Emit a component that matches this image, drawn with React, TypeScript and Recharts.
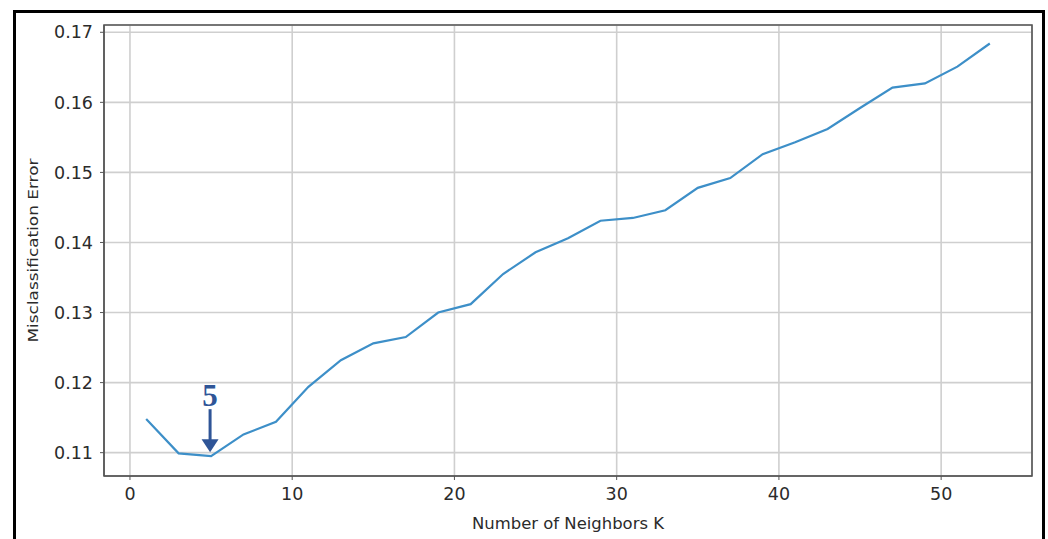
import {
  LineChart,
  Line,
  XAxis,
  YAxis,
  CartesianGrid,
  ReferenceArea,
  ReferenceDot,
  Label,
} from "recharts";

const kValues = [1, 3, 5, 7, 9, 11, 13, 15, 17, 19, 21, 23, 25, 27, 29, 31, 33, 35, 37, 39, 41, 43, 45, 47, 49, 51, 53];
const errorRates = [
  0.1148, 0.1099, 0.1095, 0.1126, 0.1144, 0.1194, 0.1232, 0.1256, 0.1265, 0.13, 0.1312, 0.1355, 0.1386, 0.1406,
  0.1431, 0.1435, 0.1446, 0.1478, 0.1492, 0.1526, 0.1543, 0.1562, 0.1592, 0.1621, 0.1627, 0.1651, 0.1684,
];
const xTicks = [0, 10, 20, 30, 40, 50];
const yTicks = [0.11, 0.12, 0.13, 0.14, 0.15, 0.16, 0.17];
const bestK = 5;
const bestLabel = "5";

const xDomain = [-1.6, 55.6];
const yDomain = [0.10667, 0.17104];

const data = kValues.map((k, i) => ({ k, err: errorRates[i] }));

const font = "'DejaVu Sans', sans-serif";
const frame = "#555555";

// arrow + "5" pointing at the best k, placed relative to the data point
function BestArrow(props: any) {
  const { cx, cy } = props;
  if (cx == null || cy == null) return null;
  const c = "#2f5597";
  return (
    <g>
      <text x={cx - 1} y={cy - 50} textAnchor="middle" fill={c} fontFamily="'Liberation Serif', serif" fontSize={31} fontWeight="bold">
        {bestLabel}
      </text>
      <line x1={cx - 1} y1={cy - 47} x2={cx - 1} y2={cy - 16} stroke={c} strokeWidth={3} />
      <polygon points={`${cx - 9.5},${cy - 17} ${cx + 7.5},${cy - 17} ${cx - 1},${cy - 4}`} fill={c} />
    </g>
  );
}

export default function App() {
  return (
    <div style={{ position: "absolute", left: 0, top: 0, width: 1048, height: 539, background: "#fff", overflow: "hidden" }}>
      <div style={{ position: "absolute", left: 13, top: 10, width: 1026, height: 600, border: "3px solid #000" }} />
      <div style={{ position: "absolute", left: 0, top: 0 }}>
        <LineChart width={1048} height={539} data={data} margin={{ top: 25, right: 16, bottom: 23, left: 44 }}>
          <CartesianGrid stroke="#cfcfcf" strokeWidth={1.6} />
          <XAxis
            type="number"
            dataKey="k"
            domain={xDomain}
            ticks={xTicks}
            allowDataOverflow
            height={40}
            tickSize={4}
            tickMargin={8}
            stroke={frame}
            tick={{ fill: "#2b2b2b", fontSize: 17.5, fontFamily: font }}
          >
            <Label
              content={({ viewBox }: any) => (
                <text
                  x={viewBox.x + viewBox.width / 2}
                  y={viewBox.y + 53}
                  textAnchor="middle"
                  fill="#2b2b2b"
                  fontSize={15.5}
                  fontFamily={font}
                  textLength={192}
                  lengthAdjust="spacingAndGlyphs"
                >
                  Number of Neighbors K
                </text>
              )}
            />
          </XAxis>
          <YAxis
            type="number"
            domain={yDomain}
            ticks={yTicks}
            allowDataOverflow
            width={60}
            tickSize={4}
            tickMargin={7}
            stroke={frame}
            tickFormatter={(v: number) => v.toFixed(2)}
            tick={{ fill: "#2b2b2b", fontSize: 17.5, fontFamily: font }}
          >
            <Label
              content={({ viewBox }: any) => {
                const x = viewBox.x - 11;
                const y = viewBox.y + viewBox.height / 2;
                return (
                  <text
                    x={x}
                    y={y}
                    dy="0.36em"
                    transform={`rotate(-90, ${x}, ${y})`}
                    textAnchor="middle"
                    fill="#2b2b2b"
                    fontSize={14.5}
                    fontFamily={font}
                    textLength={184}
                    lengthAdjust="spacingAndGlyphs"
                  >
                    Misclassification Error
                  </text>
                );
              }}
            />
          </YAxis>
          <ReferenceArea
            x1={xDomain[0]}
            x2={xDomain[1]}
            y1={yDomain[0]}
            y2={yDomain[1]}
            fill="none"
            stroke={frame}
            strokeWidth={1.6}
            ifOverflow="visible"
          />
          <Line
            type="linear"
            dataKey="err"
            stroke="#3d8fc8"
            strokeWidth={2.2}
            dot={false}
            activeDot={false}
            isAnimationActive={false}
          />
          <ReferenceDot
            x={bestK}
            y={errorRates[kValues.indexOf(bestK)]}
            r={0}
            ifOverflow="visible"
            shape={(p: any) => <BestArrow {...p} />}
          />
        </LineChart>
      </div>
    </div>
  );
}
